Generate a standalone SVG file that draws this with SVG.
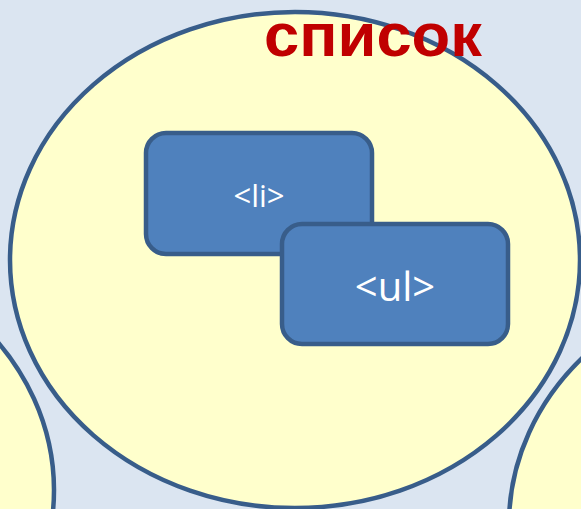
<svg xmlns="http://www.w3.org/2000/svg" width="581" height="509" viewBox="0 0 581 509">
<style>
.circ{fill:#ffffcc;stroke:#385d8a;stroke-width:4.5}
.box{fill:#4f81bd;stroke:#385d8a;stroke-width:4.5}
.lbl{fill:#ffffff;font-family:"Open Sans","Noto Sans",sans-serif;text-anchor:middle}
</style>
<rect width="581" height="509" fill="#dbe5f1"/>
<g id="left-circle"><ellipse class="circ" cx="-231" cy="490" rx="285" ry="248"/></g>
<g id="right-circle"><ellipse class="circ" cx="794" cy="524" rx="285" ry="248"/></g>
<g id="main-circle"><ellipse class="circ" cx="295" cy="260" rx="285" ry="248"/></g>
<g id="title"><text x="373" y="56" font-family="Liberation Sans, Arial, sans-serif" font-weight="bold" font-size="62" fill="#c00000" text-anchor="middle" textLength="218" lengthAdjust="spacingAndGlyphs">список</text></g>
<g id="li"><rect class="box" x="146" y="133" width="226" height="121" rx="20"/><text class="lbl" x="259" y="207" font-size="31">&lt;li&gt;</text></g>
<g id="ul"><rect class="box" x="282" y="224" width="226" height="120" rx="20"/><text class="lbl" x="395" y="301" font-size="40">&lt;ul&gt;</text></g>
<g id="connectors"/>
</svg>
